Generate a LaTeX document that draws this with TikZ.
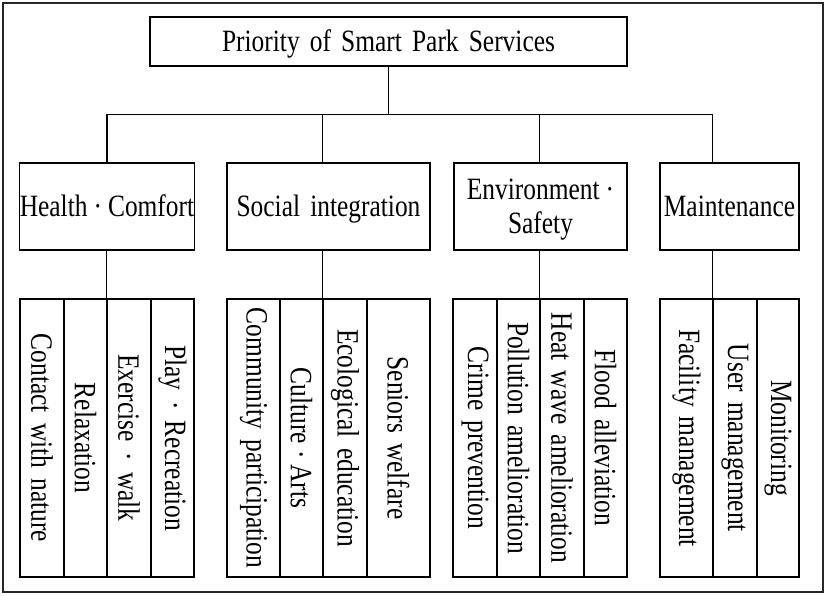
\documentclass[tikz,border=0pt]{standalone}
\usepackage{fontspec}
\usetikzlibrary{calc}
\setmainfont[FakeStretch=0.82,WordSpace=1.6]{Liberation Serif}
\newcommand{\dsep}[1]{\hspace{#1}·\hspace{#1}}
\begin{document}
\begin{tikzpicture}[x=1pt,y=-1pt,
  every node/.style={font=\fontsize{31}{34}\selectfont},
  box/.style={draw,line width=1.3pt,inner sep=0pt,align=center},
  cat/.style={box,minimum height=87pt},
  catone/.style={cat,text height=24pt,text depth=4pt},
  cell/.style={box,minimum height=278pt},
  rot/.style={rotate=-90,inner sep=0pt,font=\fontsize{31}{34}\selectfont},
  conn/.style={line width=1.3pt},
  frame/.style={draw,line width=1.3pt,black!85,inner sep=0pt}]
\useasboundingbox (0,0) rectangle (827,596);
\node[frame,minimum width=820pt,minimum height=589pt] (frame) at (413,297.5) {};
\node[box,minimum width=477pt,minimum height=49pt,text height=24pt,text depth=3pt] (title) at (388.5,41.5) {Priority of Smart Park Services};
% categories
\node[catone,minimum width=174pt] (hc) at (107,206.5) {Health\dsep{6pt}Comfort};
\node[catone,minimum width=203pt] (si) at (328.5,206.5) {Social integration};
\node[cat,minimum width=173pt,label={[align=center,inner sep=0pt,yshift=-3pt]center:Environment\dsep{6pt}\\Safety}] (es) at (540.5,206.5) {};
\node[catone,minimum width=139pt] (mt) at (729.5,206.5) {Maintenance};
% leaves: health
\node[cell,minimum width=44pt,label={[rot]center:Contact with nature}] (h1) at (42,438) {};
\node[cell,minimum width=43pt,label={[rot]center:Relaxation}] (h2) at (85.5,438) {};
\node[cell,minimum width=44pt,label={[rot]center:Exercise\dsep{11pt}walk}] (h3) at (129,438) {};
\node[cell,minimum width=43pt,label={[rot]center:Play\dsep{11pt}Recreation}] (h4) at (172.5,438) {};
% social
\node[cell,minimum width=53pt,label={[rot]center:Community participation}] (s1) at (253.5,438) {};
\node[cell,minimum width=43pt,label={[rot]center:Culture\dsep{6pt}Arts}] (s2) at (301.5,438) {};
\node[cell,minimum width=44pt,label={[rot]center:Ecological education}] (s3) at (345,438) {};
\node[cell,minimum width=63pt,label={[rot]center:Seniors welfare}] (s4) at (398.5,438) {};
% environment
\node[cell,minimum width=44pt,label={[rot]center:Crime prevention}] (e1) at (475,438) {};
\node[cell,minimum width=43pt,label={[rot]center:Pollution amelioration}] (e2) at (518.5,438) {};
\node[cell,minimum width=44pt,label={[rot]center:Heat wave amelioration}] (e3) at (562,438) {};
\node[cell,minimum width=43pt,label={[rot]center:Flood alleviation}] (e4) at (605.5,438) {};
% maintenance
\node[cell,minimum width=53pt,label={[rot]center:Facility management}] (m1) at (686.5,438) {};
\node[cell,minimum width=44pt,label={[rot]center:User management}] (m2) at (735,438) {};
\node[cell,minimum width=42pt,label={[rot]center:Monitoring}] (m3) at (778,438) {};
% connectors
\coordinate (busL) at ($(hc.north)+(0,-48)$);
\coordinate (busR) at (m2.north west |- busL);
\draw[conn] (title.south) -- (title.south |- busL);
\draw[conn] (busL) -- (busR);
\draw[conn] (busL) -- (hc.north);
\draw[conn] (s3.north west |- busL) -- (s3.north west |- si.north);
\draw[conn] (e3.north west |- busL) -- (e3.north west |- es.north);
\draw[conn] (busR) -- (busR |- mt.north);
\draw[conn] (hc.south -| h3.north west) -- (h3.north west);
\draw[conn] (si.south -| s3.north west) -- (s3.north west);
\draw[conn] (es.south -| e3.north west) -- (e3.north west);
\draw[conn] (mt.south -| m2.north west) -- (m2.north west);
\end{tikzpicture}
\end{document}
